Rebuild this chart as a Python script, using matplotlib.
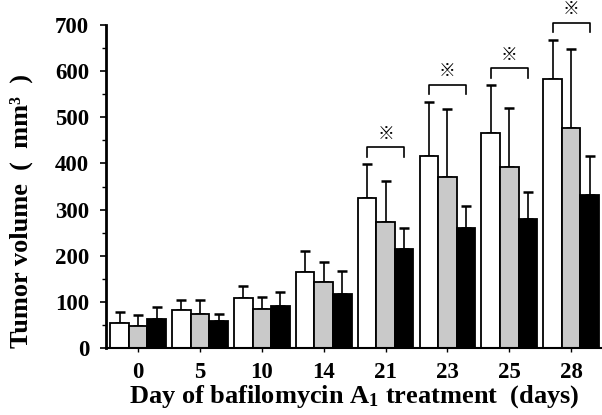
import numpy as np
import matplotlib.pyplot as plt

# days on the x axis
days = ['0', '5', '10', '14', '21', '23', '25', '28']

# mean tumor volume (mm3) for the three groups
control = [55, 82, 109, 165, 324, 416, 467, 582]
low_dose = [48, 74, 84, 142, 274, 371, 393, 477]
high_dose = [62, 58, 92, 118, 215, 259, 279, 332]

# top of the error bars
control_top = [79, 104, 135, 211, 399, 534, 571, 668]
low_top = [71, 104, 111, 186, 363, 517, 521, 649]
high_top = [89, 74, 122, 167, 261, 308, 338, 417]

# significance brackets: group index, bracket height
sig_groups = [4, 5, 6, 7]
sig_heights = [435, 570, 606, 705]

plt.rcParams['font.family'] = ['Liberation Serif', 'DejaVu Serif']
plt.rcParams['font.weight'] = 'bold'
plt.rcParams['mathtext.fontset'] = 'custom'
plt.rcParams['mathtext.rm'] = 'Liberation Serif:bold'
plt.rcParams['mathtext.default'] = 'rm'

fig = plt.figure(figsize=(6.02, 4.15), dpi=100)
ax = fig.add_axes([0.176, 0.1614, 0.824, 0.7784])

x = np.arange(len(days))
w = 0.3
series = [(control, control_top, 'white'),
          (low_dose, low_top, '#c9c9c9'),
          (high_dose, high_top, 'black')]
for i, (vals, tops, col) in enumerate(series):
    pos = x + (i - 1) * w
    ax.bar(pos, vals, width=w, color=col, edgecolor='black', linewidth=1.3, zorder=2)
    err = np.array(tops) - np.array(vals)
    ax.errorbar(pos, vals, yerr=[np.zeros(len(vals)), err], fmt='none',
                ecolor='black', elinewidth=1.2, capsize=3.5, capthick=1.8, zorder=1)

for g, h in zip(sig_groups, sig_heights):
    x0, x1 = g - w, g + w
    ax.plot([x0, x0, x1, x1], [h - 20, h, h, h - 20], color='black', lw=1.2,
            clip_on=False)
    ax.text(g, h + 10, '※', ha='center', va='bottom', fontsize=12, fontweight='bold',
            family=['Noto Sans CJK JP', 'DejaVu Sans'], clip_on=False)

ax.set_xlim(-0.52, 7.5)
ax.set_ylim(0, 700)
ax.set_xticks(x)
ax.set_xticklabels(days)
ax.set_yticks(np.arange(0, 701, 100))
ax.set_yticks(np.arange(50, 700, 100), minor=True)

for s in ['top', 'right']:
    ax.spines[s].set_visible(False)
ax.spines['left'].set_linewidth(2.0)
ax.spines['bottom'].set_linewidth(1.5)
ax.tick_params(axis='y', which='major', length=4, width=1.2, labelsize=16.5, pad=8)
ax.tick_params(axis='y', which='minor', length=3, width=1.0)
ax.tick_params(axis='x', length=3, width=1.0, labelsize=16.5, pad=7)
for lab in ax.get_xticklabels() + ax.get_yticklabels():
    lab.set_fontweight('bold')

ax.set_ylabel('Tumor volume  (  mm³  )', fontsize=19, fontweight='bold')
ax.yaxis.set_label_coords(-0.147, 0.424)
ax.set_xlabel('Day of bafilomycin A$_1$ treatment  (days)', fontsize=19,
              fontweight='bold', labelpad=0)

fig.savefig('out.png', dpi=100)
